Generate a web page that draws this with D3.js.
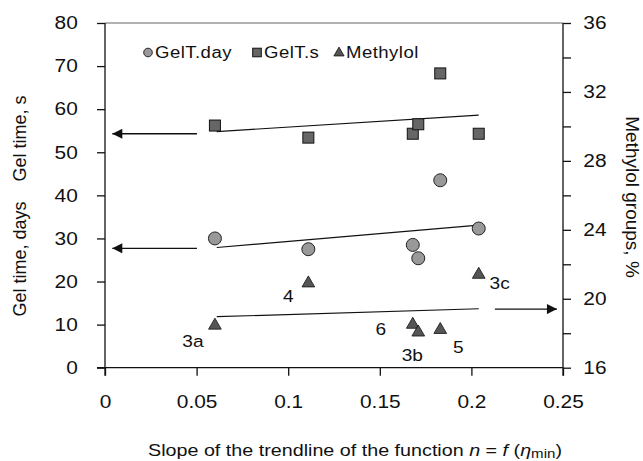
<!DOCTYPE html>
<html>
<head>
<meta charset="utf-8">
<script src="https://cdn.jsdelivr.net/npm/d3@7"></script>
<style>
    body { margin: 0; background: white; }
    svg text { font-family: "Liberation Sans", Arial, sans-serif; }
    .tick text { font-size: 18px; fill: #111; }
</style>
</head>
<body>
<script>
// Data
var slope = [0.060, 0.111, 0.168, 0.171, 0.183, 0.204];
var gelS = [56.2, 53.4, 54.3, 56.5, 68.3, 54.3];
var gelDay = [30.0, 27.5, 28.5, 25.4, 43.5, 32.3];
var methylol = [18.45, 20.9, 18.5, 18.05, 18.2, 21.4];
var sampleNames = ["3a", "4", "6", "3b", "5", "3c"];

// trendline end points (x from first to last sample)
var trendX = [0.061, 0.204];
var trendS = [54.8, 58.6];
var trendDay = [27.9, 33.1];
var trendMethylol = [18.96, 19.42];

var xTicks = [0, 0.05, 0.1, 0.15, 0.2, 0.25];
var leftTicks = [0, 10, 20, 30, 40, 50, 60, 70, 80];
var rightTicks = [16, 18, 20, 22, 24, 26, 28, 30, 32, 34, 36];
var rightLabels = [16, 20, 24, 28, 32, 36];

var legendNames = ["GelT.day", "GelT.s", "Methylol"];

// label offsets for sample names (px, from the triangle)
var nameOffset = [[-22, 16], [-20, 13], [-32, 5], [-6, 23], [18, 18], [21, 9]];

// the original figure is a bit stretched sideways
var STRETCH = 1.16;

var W = 643, H = 461;

var svg = d3.select("body").append("svg")
    .attr("width", W)
    .attr("height", H);

var x = d3.scaleLinear().domain([0, 0.25]).range([105, 563]);
var yL = d3.scaleLinear().domain([0, 80]).range([367.7, 23]);
var yR = d3.scaleLinear().domain([16, 36]).range([367.7, 23]);

// horizontal text, widened like the original
function wideText(parent, px, py, size) {
    return parent.append("text")
        .attr("transform", "translate(" + px + "," + py + ") scale(" + STRETCH + ",1)")
        .style("font-size", size + "px")
        .attr("fill", "#111");
}

// top border
svg.append("line")
    .attr("x1", x(0)).attr("x2", x(0.25))
    .attr("y1", yL(80)).attr("y2", yL(80))
    .attr("stroke", "#999").attr("stroke-width", 1.3);

var xAxis = svg.append("g")
    .attr("transform", "translate(0," + yL(0) + ")")
    .call(d3.axisBottom(x).tickValues(xTicks).tickSize(8).tickPadding(20)
        .tickFormat(function(d) { return d === 0 ? "0" : String(+d.toFixed(2)); }));
xAxis.select(".domain").attr("d", "M" + (x(0) - 8) + ",0H" + x(0.25));

var leftAxis = svg.append("g")
    .attr("transform", "translate(" + x(0) + ",0)")
    .call(d3.axisLeft(yL).tickValues(leftTicks).tickSize(8).tickPadding(15.5));
leftAxis.select(".domain").attr("d", "M0," + yL(80) + "V" + (yL(0) + 8));

var rightAxis = svg.append("g")
    .attr("transform", "translate(" + x(0.25) + ",0)")
    .call(d3.axisRight(yR).tickValues(rightTicks).tickSize(8).tickPadding(9.5)
        .tickFormat(function(d) { return rightLabels.indexOf(d) >= 0 ? d : ""; }));
rightAxis.select(".domain").attr("d", "M0," + yR(36) + "V" + (yR(16) + 8));

svg.selectAll(".domain, .tick line").attr("stroke", "#111").attr("stroke-width", 1.3);
svg.selectAll(".tick text").attr("transform", "scale(" + STRETCH + ",1)");

// axis titles
svg.append("text")
    .attr("transform", "translate(26,206) rotate(-90)")
    .attr("text-anchor", "middle")
    .style("font-size", "18px")
    .attr("fill", "#111")
    .attr("xml:space", "preserve")
    .text("Gel time, days    Gel time, s");

svg.append("text")
    .attr("transform", "translate(626,197) rotate(90)")
    .attr("text-anchor", "middle")
    .style("font-size", "19px")
    .attr("fill", "#111")
    .text("Methylol groups, %");

var xt = wideText(svg, 148, 456, 17);
xt.append("tspan").text("Slope of the trendline of the function ");
xt.append("tspan").style("font-style", "italic").text("n");
xt.append("tspan").text(" = ");
xt.append("tspan").style("font-style", "italic").text("f");
xt.append("tspan").text(" (");
xt.append("tspan").style("font-style", "italic").text("\u03B7");
xt.append("tspan").style("font-size", "13px").attr("dy", 2).text("min");
xt.append("tspan").attr("dy", -2).text(")");

// trendlines
function trend(ys, scale) {
    svg.append("line")
        .attr("x1", x(trendX[0])).attr("y1", scale(ys[0]))
        .attr("x2", x(trendX[1])).attr("y2", scale(ys[1]))
        .attr("stroke", "#111").attr("stroke-width", 1.2);
}
trend(trendS, yL);
trend(trendDay, yL);
trend(trendMethylol, yR);

// arrows
svg.append("defs").append("marker")
    .attr("id", "head")
    .attr("viewBox", "0 0 10 10")
    .attr("refX", 10).attr("refY", 5)
    .attr("markerUnits", "userSpaceOnUse")
    .attr("markerWidth", 11).attr("markerHeight", 10)
    .attr("orient", "auto")
    .append("path").attr("d", "M0,0L10,5L0,10Z").attr("fill", "#111");

function arrow(x1, x2, yv) {
    svg.append("line")
        .attr("x1", x(x1)).attr("x2", x(x2))
        .attr("y1", yv).attr("y2", yv)
        .attr("stroke", "#111").attr("stroke-width", 1.3)
        .attr("marker-end", "url(#head)");
}
arrow(0.0502, 0.004, yL(54.3));
arrow(0.0502, 0.004, yL(27.7));
arrow(0.2128, 0.2467, yR(19.4));

// markers
var tri = d3.symbol().type(d3.symbolTriangle);

svg.selectAll(".day").data(slope).enter()
    .append("circle").attr("class", "day")
    .attr("cx", function(d) { return x(d); })
    .attr("cy", function(d, i) { return yL(gelDay[i]); })
    .attr("r", 6.5)
    .attr("fill", "#999").attr("stroke", "#222").attr("stroke-width", 1);

svg.selectAll(".sec").data(slope).enter()
    .append("rect").attr("class", "sec")
    .attr("x", function(d) { return x(d) - 5.5; })
    .attr("y", function(d, i) { return yL(gelS[i]) - 5.5; })
    .attr("width", 11).attr("height", 11)
    .attr("fill", "#666").attr("stroke", "#111").attr("stroke-width", 1);

svg.selectAll(".meth").data(slope).enter()
    .append("path").attr("class", "meth")
    .attr("d", tri.size(70))
    .attr("transform", function(d, i) {
        return "translate(" + x(d) + "," + yR(methylol[i]) + ")";
    })
    .attr("fill", "#555").attr("stroke", "#111").attr("stroke-width", 0.8);

sampleNames.forEach(function(name, i) {
    wideText(svg, x(slope[i]) + nameOffset[i][0], yR(methylol[i]) + nameOffset[i][1], 16.5)
        .attr("text-anchor", "middle")
        .attr("dominant-baseline", "central")
        .text(name);
});

// legend
var legendX = [148, 257, 339];
var lg = svg.append("g");
legendNames.forEach(function(name, i) {
    var cx = legendX[i], cy = 52.5;
    if (i === 0) {
        lg.append("circle").attr("cx", cx).attr("cy", cy).attr("r", 4.3)
            .attr("fill", "#999").attr("stroke", "#222");
    } else if (i === 1) {
        lg.append("rect").attr("x", cx - 4.3).attr("y", cy - 4.3)
            .attr("width", 8.6).attr("height", 8.6)
            .attr("fill", "#666").attr("stroke", "#111");
    } else {
        lg.append("path").attr("d", tri.size(45))
            .attr("transform", "translate(" + cx + "," + (cy + 0.5) + ")")
            .attr("fill", "#555").attr("stroke", "#111").attr("stroke-width", 0.8);
    }
    wideText(lg, cx + 7, cy + 5.8, 16).text(name).style("letter-spacing", "0.4px");
});
</script>
</body>
</html>
